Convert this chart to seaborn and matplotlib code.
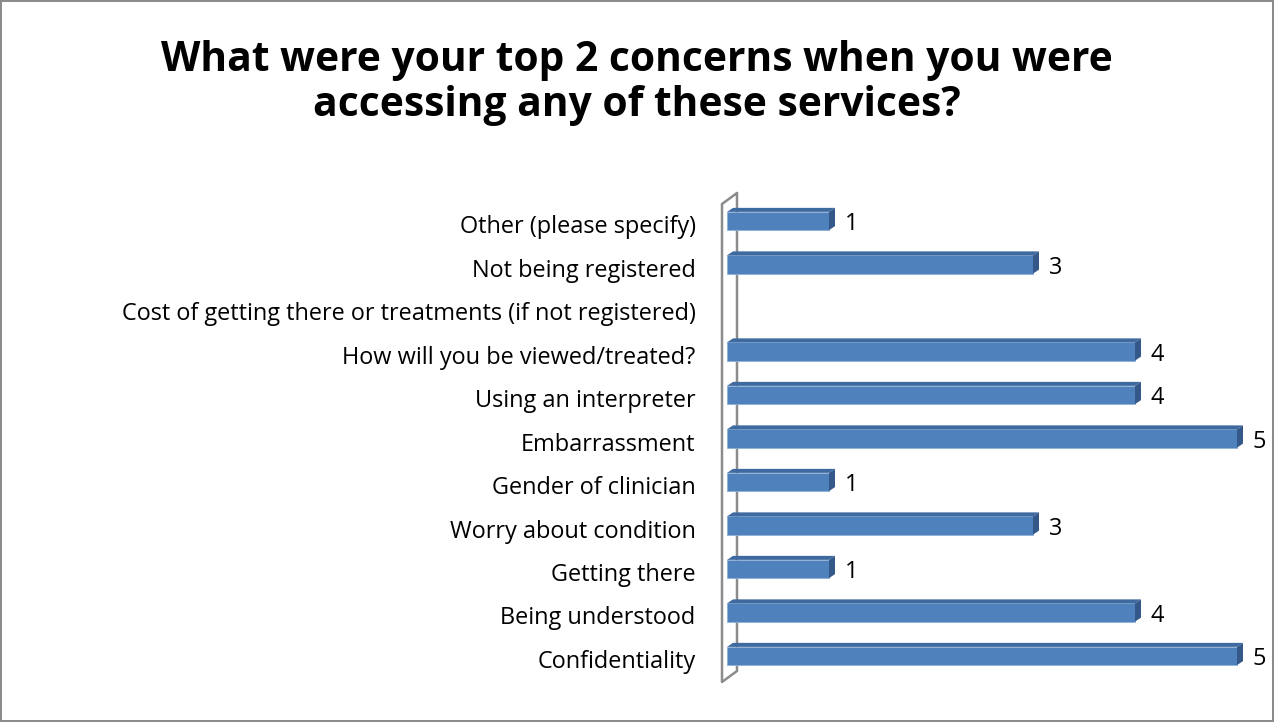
import matplotlib
matplotlib.use("Agg")
import matplotlib.pyplot as plt
import matplotlib.transforms as mtransforms
from matplotlib.patches import Polygon
import seaborn as sns
import pandas as pd

categories = [
    "Other (please specify)",
    "Not being registered",
    "Cost of getting there or treatments (if not registered)",
    "How will you be viewed/treated?",
    "Using an interpreter",
    "Embarrassment",
    "Gender of clinician",
    "Worry about condition",
    "Getting there",
    "Being understood",
    "Confidentiality",
]
values = [1, 3, 0, 4, 4, 5, 1, 3, 1, 4, 5]
title = "What were your top 2 concerns when you were\naccessing any of these services?"

sns.set_theme(style="white")
plt.rcParams["font.family"] = ["Open Sans", "DejaVu Sans"]

W, H = 1274, 722
fig = plt.figure(figsize=(W / 100, H / 100), dpi=100)
fig.patch.set_edgecolor("#8c8c8c")
fig.patch.set_linewidth(1.5)

ax_l, ax_r, ax_t, ax_b = 722, 1265, 204, 682
ax = fig.add_axes([ax_l / W, 1 - ax_b / H, (ax_r - ax_l) / W, (ax_b - ax_t) / H])
ax.patch.set_alpha(0)
ax.set_zorder(2)

df = pd.DataFrame({"category": categories, "value": values})
sns.barplot(data=df, y="category", x="value", order=categories, orient="h",
            color="#4F81BD", saturation=1, width=0.42, ax=ax,
            edgecolor="#8fb0d8", linewidth=0.6)

x0px, scale = 727, 102.0
ax.set_xlim((ax_l - x0px) / scale, (ax_r - x0px) / scale)
spacing = (656 - 221) / 10
ax.set_ylim(10 + (ax_b - 656) / spacing, -(221 - ax_t) / spacing)

for s in ax.spines.values():
    s.set_visible(False)
ax.set_xticks([])
ax.set_xlabel("")
ax.set_ylabel("")
ax.tick_params(axis="y", length=0, pad=19, labelsize=16.9, labelcolor="#000000")
shift = mtransforms.ScaledTranslation(0, -3 / 100, fig.dpi_scale_trans)
for lab in ax.get_yticklabels():
    lab.set_transform(lab.get_transform() + shift)

# 3D depth faces for bars
dx, dy = 6, 4  # pixels
fig.canvas.draw()
inv = ax.transData.inverted()
for p in ax.patches:
    w = p.get_width()
    if w <= 0:
        p.set_visible(False)
        continue
    x, y, h = p.get_x(), p.get_y(), p.get_height()
    tl = ax.transData.transform((x, y))
    tr = ax.transData.transform((x + w, y))
    br = ax.transData.transform((x + w, y + h))
    top = [tl, tr, tr + (dx, dy), tl + (dx, dy)]
    side = [tr, br, br + (dx, dy), tr + (dx, dy)]
    ax.add_patch(Polygon(inv.transform(top), closed=True, facecolor="#3f6aa0",
                         edgecolor="none", zorder=p.get_zorder()))
    ax.add_patch(Polygon(inv.transform(side), closed=True, facecolor="#34588a",
                         edgecolor="none", zorder=p.get_zorder()))

labels = ["" if v == 0 else str(v) for v in values]
txts = ax.bar_label(ax.containers[0], labels=labels, padding=11.5, fontsize=16.9, color="#000000")
for t in txts:
    t.xyann = (11.5, -2.5)

# 3D wall on left
wd, wh = 15, 11
def fp(px, py):
    return (px / W, 1 - py / H)
pts = [fp(ax_l + wd, ax_t - wh), fp(ax_l, ax_t), fp(ax_l, ax_b),
       fp(ax_l + wd, ax_b - wh), fp(ax_l + wd, ax_t - wh)]
fig.add_artist(plt.Line2D([p[0] for p in pts], [p[1] for p in pts],
                          color="#8c8c8c", linewidth=1.8, zorder=1))

fig.text(0.5, 1 - 83 / H, title, ha="center", va="center", fontsize=29.3,
         fontweight="bold", color="#000000", linespacing=1.1)

fig.savefig("out.png", dpi=100)
